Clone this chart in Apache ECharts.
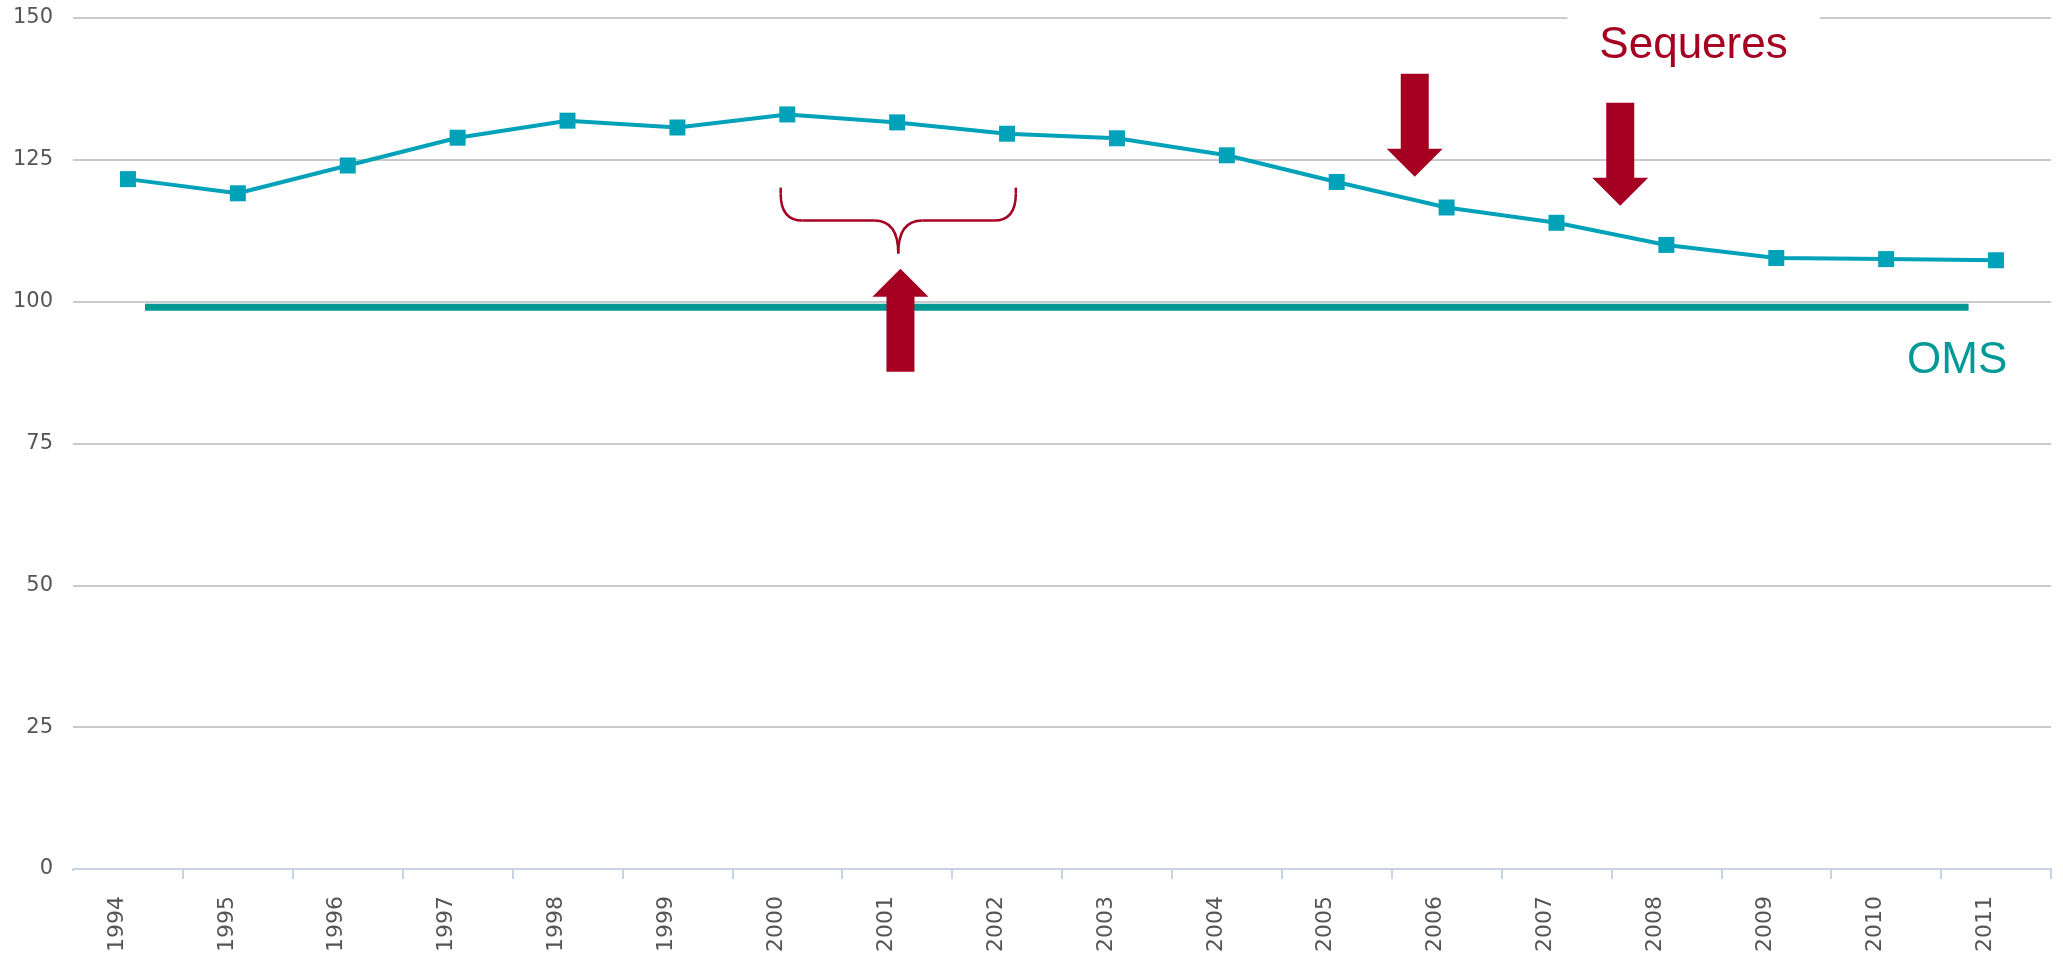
<!DOCTYPE html>
<html>
<head>
<meta charset="utf-8">
<script src="https://cdn.jsdelivr.net/npm/echarts@6/dist/echarts.min.js"></script>
<style>
html,body{margin:0;padding:0;background:#fff;}
#chart{width:2063px;height:959px;}
</style>
</head>
<body>
<div id="chart"></div>
<script>
const years = ['1994','1995','1996','1997','1998','1999','2000','2001','2002','2003','2004','2005','2006','2007','2008','2009','2010','2011'];
const values = [121.6,119.1,124.0,128.9,131.9,130.7,133.0,131.6,129.6,128.8,125.8,121.1,116.6,113.9,110.0,107.7,107.5,107.3];
const omsValue = 99;
const omsSpan = [0.155, 16.75];          // category-index extent of the OMS reference line
const yTicks = [0, 25, 50, 75, 100, 125, 150];
const labelSequeres = 'Sequeres';
const labelOMS = 'OMS';

const RED = '#a50021';
const TEAL = '#009a96';
const CYAN = '#00a2b9';

const chart = echarts.init(document.getElementById('chart'), null, {renderer: 'canvas'});

const option = {
  animation: false,
  backgroundColor: '#fff',
  grid: {left: 73, right: 12, top: 18, bottom: 90, containLabel: false},
  xAxis: [{
    type: 'category',
    data: years,
    boundaryGap: true,
    axisLine: {show: true, lineStyle: {color: '#c5d3e4', width: 2}},
    axisTick: {show: true, length: 10, lineStyle: {color: '#c5d3e4', width: 2}},
    axisLabel: {rotate: 90, margin: 27, color: '#555', fontFamily: 'DejaVu Sans', fontSize: 22, verticalAlign: 'bottom'},
    splitLine: {show: false}
  }, {
    type: 'value',
    min: -0.5, max: 17.5,
    show: false
  }],
  yAxis: {
    type: 'value',
    min: yTicks[0], max: yTicks[yTicks.length - 1], interval: 25,
    axisLine: {show: false},
    axisTick: {show: false},
    axisLabel: {color: '#555', fontFamily: 'DejaVu Sans', fontSize: 21, margin: 20},
    splitLine: {show: true, lineStyle: {color: '#cacaca', width: 2}}
  },
  series: [{
    type: 'line',
    xAxisIndex: 0,
    data: values,
    symbol: 'rect',
    symbolSize: 16,
    lineStyle: {color: CYAN, width: 4},
    itemStyle: {color: CYAN},
    z: 5
  }, {
    type: 'line',
    xAxisIndex: 1,
    data: [[omsSpan[0], omsValue], [omsSpan[1], omsValue]],
    symbol: 'none',
    lineStyle: {color: TEAL, width: 7},
    z: 4
  }]
};
chart.setOption(option);

function px(ix, v) { return chart.convertToPixel({xAxisIndex: 1, yAxisIndex: 0}, [ix, v]); }

function arrow(ix, v, dir) {
  const t = px(ix, v);
  const sw = 14, hw = 28, hh = 28, len = 103;
  const s = dir === 'down' ? -1 : 1;
  const pts = [
    [t[0], t[1]],
    [t[0] + hw, t[1] + s * hh],
    [t[0] + sw, t[1] + s * hh],
    [t[0] + sw, t[1] + s * len],
    [t[0] - sw, t[1] + s * len],
    [t[0] - sw, t[1] + s * hh],
    [t[0] - hw, t[1] + s * hh]
  ];
  return {type: 'polygon', z: 100, shape: {points: pts}, style: {fill: RED}};
}

function brace(ixL, ixR, vTop, vPoint) {
  const L = px(ixL, vTop), R = px(ixR, vTop), P = px((ixL + ixR) / 2, vPoint);
  const top = L[1], pt = P[1], bar = (top + pt) / 2;
  const l = L[0], r = R[0], m = P[0];
  const st = {fill: null, stroke: RED, lineWidth: 2.5};
  const ln = (x1, y1, x2, y2) => ({type: 'line', z: 100, shape: {x1, y1, x2, y2}, style: st});
  const bz = (x1, y1, cx, cy, x2, y2) => ({type: 'bezierCurve', z: 100,
    shape: {x1, y1, cpx1: cx, cpy1: cy, x2, y2}, style: st});
  return [
    ln(l, top, l, top + 6),
    bz(l, top + 6, l, bar, l + 22, bar),
    ln(l + 22, bar, m - 24, bar),
    bz(m - 24, bar, m, bar, m, pt),
    bz(m + 24, bar, m, bar, m, pt),
    ln(m + 24, bar, r - 22, bar),
    bz(r - 22, bar, r, bar, r, top + 6),
    ln(r, top + 6, r, top)
  ];
}

const sq = px(13.39, 145.1);
const om = px(16.19, 89.6);
const origin = chart.convertToPixel({xAxisIndex: 1, yAxisIndex: 0}, [-0.5, 0]);

chart.setOption({
  graphic: [
    // the reference has no tick at the left end of the category axis
    {type: 'rect', z: 100, shape: {x: origin[0] - 3, y: origin[1] + 2, width: 6, height: 12}, style: {fill: '#fff'}},
    {type: 'text', z: 100, x: sq[0] - 32, y: sq[1],
      style: {text: labelSequeres, fill: RED, font: '44px "Liberation Sans", Arial, sans-serif',
        verticalAlign: 'middle', align: 'left', backgroundColor: '#fff', padding: [10, 32, 10, 32]}},
    {type: 'text', z: 100, x: om[0], y: om[1],
      style: {text: labelOMS, fill: TEAL, font: '44px "Liberation Sans", Arial, sans-serif',
        verticalAlign: 'middle', align: 'left'}}
  ].concat(brace(5.94, 8.08, 120.1, 108.5), [
    arrow(7.03, 105.8, 'up'),
    arrow(11.71, 122.0, 'down'),
    arrow(13.58, 116.9, 'down')
  ])
});
</script>
</body>
</html>
